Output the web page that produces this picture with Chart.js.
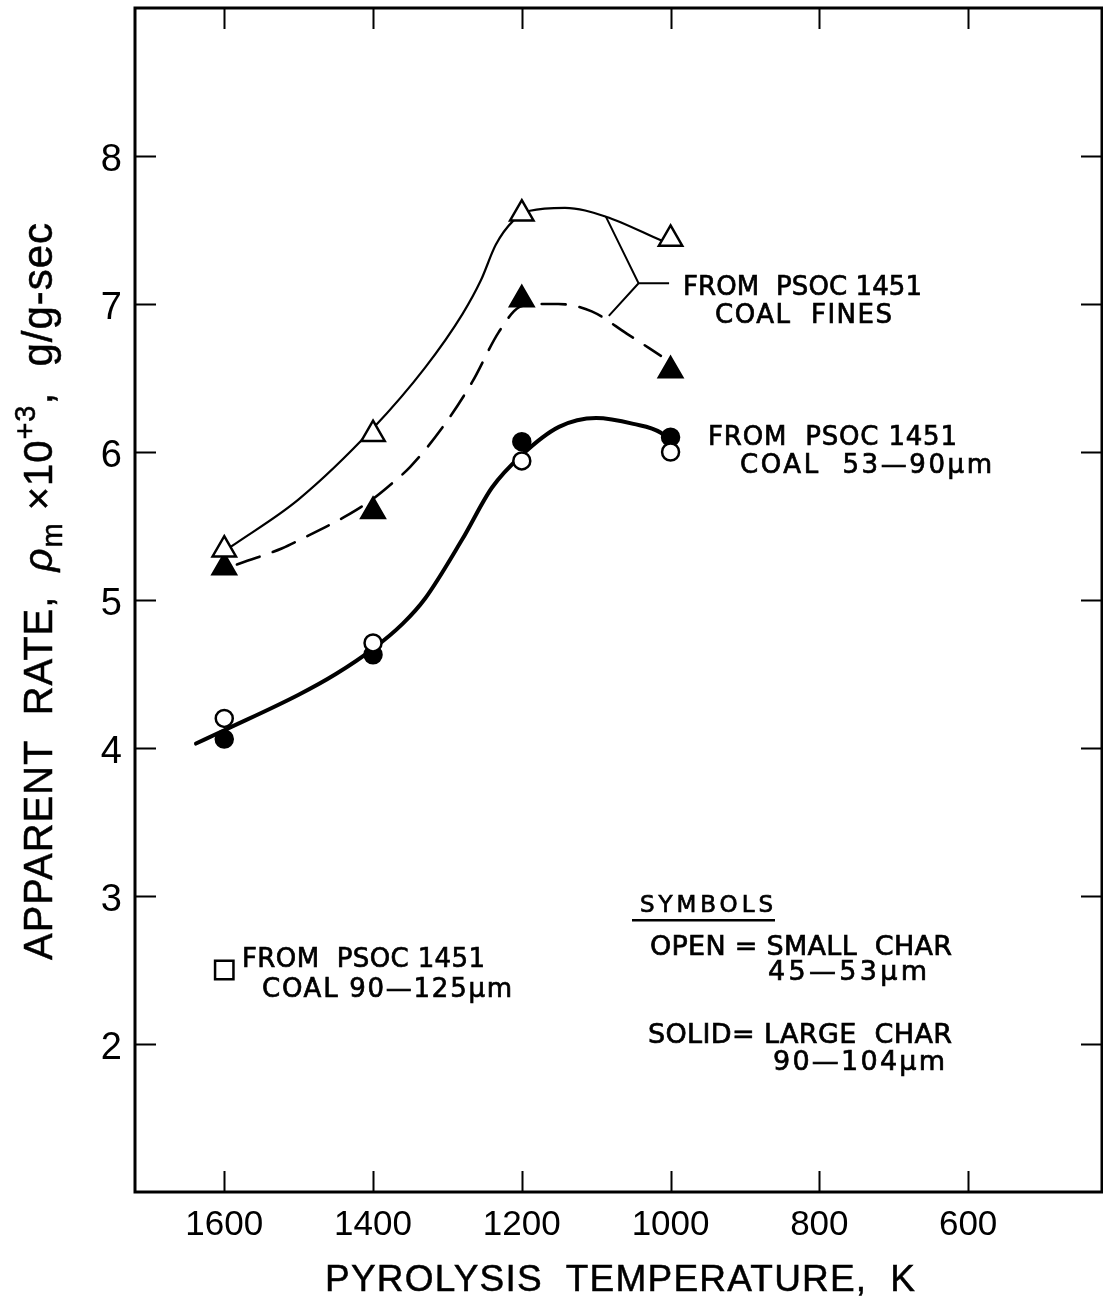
<!DOCTYPE html>
<html>
<head>
<meta charset="utf-8">
<script src="https://cdn.jsdelivr.net/npm/chart.js@4.4.1/dist/chart.umd.min.js"></script>
<style>
  html, body { margin: 0; padding: 0; background: #fff; }
  canvas { display: block; }
</style>
</head>
<body>
<canvas id="c" width="1103" height="1301"></canvas>
<script>
// Pyrolysis temperature of each char, K
const tempK = [1600, 1400, 1200, 1000];

// Apparent rate, rho_m x 10^3, g/g-sec
const finesSmall = [5.34, 6.12, 7.61, 7.44];  // open triangles
const finesLarge = [5.22, 5.60, 7.03, 6.55];  // solid triangles
const coalSmall  = [4.20, 4.71, 5.94, 6.00];  // open circles
const coalLarge  = [4.06, 4.63, 6.07, 6.10];  // solid circles
const coarseTemp = [1600];
const coarseRate = [2.50];                     // open square

// Faired curves through each group
const finesSmallCurveT = [1591, 1500, 1400, 1330, 1280, 1255, 1235, 1212, 1189, 1142, 1087, 1013];
const finesSmallCurveR = [5.36, 5.68, 6.16, 6.57, 6.93, 7.16, 7.40, 7.56, 7.63, 7.65, 7.59, 7.43];

const finesLargeCurveT = [1583, 1522, 1497, 1439, 1401, 1374, 1350, 1309, 1267, 1231, 1203, 1180, 1151, 1106, 1059, 1013];
const finesLargeCurveR = [5.24, 5.35, 5.41, 5.56, 5.68, 5.79, 5.90, 6.15, 6.47, 6.81, 6.98, 7.00, 7.00, 6.95, 6.80, 6.65];

const coalCurveT = [1638, 1600, 1500, 1450, 1400, 1360, 1330, 1280, 1240, 1200, 1150, 1100, 1050, 1013, 1001];
const coalCurveR = [4.03, 4.12, 4.36, 4.50, 4.67, 4.84, 5.01, 5.41, 5.76, 5.98, 6.17, 6.23, 6.19, 6.13, 6.07];

// Axis ticks
const xTicks = [1600, 1400, 1200, 1000, 800, 600];
const yTicks = [2, 3, 4, 5, 6, 7, 8];

const SANS = '"Liberation Sans", Arial, sans-serif';
const LETTER = '"DejaVu Sans", Verdana, sans-serif';

const pts = (xs, ys) => xs.map((x, i) => ({ x: x, y: ys[i] }));

function marker(label, xs, ys, style, fill, r) {
  return {
    label: label, data: pts(xs, ys), showLine: false,
    pointStyle: style, pointRadius: r, pointHoverRadius: r,
    pointBackgroundColor: fill, pointBorderColor: '#000', pointBorderWidth: 2.5,
    order: 0
  };
}
function curve(label, xs, ys, width, dash) {
  return {
    label: label, data: pts(xs, ys), showLine: true,
    pointRadius: 0, pointHoverRadius: 0,
    borderColor: '#000', borderWidth: width, borderDash: dash,
    borderCapStyle: 'round', cubicInterpolationMode: 'monotone', fill: false,
    order: 1
  };
}

// Draw a line of lettering so that it spans a given width
function fitText(ctx, str, x, y, width, font, weight) {
  ctx.font = font;
  ctx.letterSpacing = '0px';
  const w0 = ctx.measureText(str).width;
  const n = Array.from(str).length;
  const ls = n > 1 ? (width - w0) / (n - 1) : 0;
  ctx.letterSpacing = ls + 'px';
  ctx.fillText(str, x, y);
  if (weight) {
    ctx.lineWidth = weight;
    ctx.strokeText(str, x, y);
  }
  ctx.letterSpacing = '0px';
}

// Chart area is framed exactly by the axis boxes
function noScalePadding(s) {
  s.paddingTop = 0; s.paddingBottom = 0; s.paddingLeft = 0; s.paddingRight = 0;
}

const decorations = {
  id: 'decorations',
  beforeDatasetsDraw(chart) {
    const { ctx, chartArea: a, scales: { x, y } } = chart;
    ctx.save();
    ctx.strokeStyle = '#000';
    // frame
    ctx.lineWidth = 3;
    ctx.strokeRect(a.left, a.top, a.right - a.left, a.bottom - a.top);
    // inward tick marks on all four sides
    ctx.lineWidth = 2;
    const L = 21;
    ctx.beginPath();
    xTicks.forEach(v => {
      const px = Math.round(x.getPixelForValue(v)) + 0.5;
      ctx.moveTo(px, a.bottom); ctx.lineTo(px, a.bottom - L);
      ctx.moveTo(px, a.top); ctx.lineTo(px, a.top + L);
    });
    yTicks.forEach(v => {
      const py = Math.round(y.getPixelForValue(v)) + 0.5;
      ctx.moveTo(a.left, py); ctx.lineTo(a.left + L, py);
      ctx.moveTo(a.right, py); ctx.lineTo(a.right - L, py);
    });
    ctx.stroke();

    // leader lines to the coal-fines label
    const P = (t, r) => [x.getPixelForValue(t), y.getPixelForValue(r)];
    const top = P(1087, 7.59), joint = P(1043, 7.14), tail = P(1002, 7.14), low = P(1083, 6.92);
    ctx.lineWidth = 2;
    ctx.beginPath();
    ctx.moveTo(top[0], top[1]); ctx.lineTo(joint[0], joint[1]); ctx.lineTo(low[0], low[1]);
    ctx.moveTo(joint[0], joint[1]); ctx.lineTo(tail[0], tail[1]);
    ctx.stroke();
    ctx.restore();
  },
  afterDraw(chart) {
    const { ctx } = chart;
    ctx.save();
    ctx.fillStyle = '#000';
    ctx.strokeStyle = '#000';
    ctx.textAlign = 'left';
    ctx.textBaseline = 'alphabetic';
    const f = '26px ' + LETTER;
    const w = 0.7;
    fitText(ctx, 'FROM  PSOC 1451', 683, 295, 239, f, w);
    fitText(ctx, 'COAL  FINES', 715, 323, 177, f, w);
    fitText(ctx, 'FROM  PSOC 1451', 708, 445, 249, f, w);
    fitText(ctx, 'COAL  53\u201490\u03bcm', 740, 473, 252, f, w);
    fitText(ctx, 'FROM  PSOC 1451', 242, 967, 243, f, w);
    fitText(ctx, 'COAL 90\u2014125\u03bcm', 262, 997, 250, f, w);

    fitText(ctx, 'SYMBOLS', 640, 912, 133, '23px ' + LETTER, w);
    ctx.fillRect(632, 919, 143, 2.5);
    const g = '27px ' + LETTER;
    fitText(ctx, 'OPEN = SMALL  CHAR', 650, 955, 302, g, w);
    fitText(ctx, '45\u201453\u03bcm', 768, 980, 159, g, w);
    fitText(ctx, 'SOLID= LARGE  CHAR', 648, 1043, 304, g, w);
    fitText(ctx, '90\u2014104\u03bcm', 773, 1070, 172, g, w);

    // x-axis title
    fitText(ctx, 'PYROLYSIS  TEMPERATURE,  K', 325, 1291, 590, '37px ' + SANS, 0.5);

    // y-axis title with subscript and superscript, read bottom to top
    const segs = [
      { t: 'APPARENT  RATE,  ', font: '40px ' + SANS, dy: 0 },
      { t: '\u03c1', font: 'italic 40px ' + SANS, dy: 0 },
      { t: 'm', font: '29px ' + SANS, dy: 10 },
      { t: ' \u00d710', font: '40px ' + SANS, dy: 0 },
      { t: '+3', font: '29px ' + SANS, dy: -17 },
      { t: ',  g/g-sec', font: '42px ' + SANS, dy: 0 }
    ];
    ctx.letterSpacing = '0px';
    let natural = 0, chars = 0;
    segs.forEach(s => { ctx.font = s.font; s.w = ctx.measureText(s.t).width; natural += s.w; chars += Array.from(s.t).length; });
    const span = 737;
    const ls = (span - natural) / (chars - 1);
    ctx.translate(52, 960);
    ctx.rotate(-Math.PI / 2);
    ctx.lineWidth = 0.5;
    let cx = 0;
    segs.forEach(s => {
      ctx.font = s.font;
      ctx.letterSpacing = ls + 'px';
      ctx.fillText(s.t, cx, s.dy);
      ctx.strokeText(s.t, cx, s.dy);
      cx += s.w + ls * Array.from(s.t).length;
    });
    ctx.restore();
  }
};

new Chart(document.getElementById('c'), {
  type: 'scatter',
  data: {
    datasets: [
      marker('Coal fines, small char', tempK, finesSmall, 'triangle', '#fff', 13.5),
      marker('Coal fines, large char', tempK, finesLarge, 'triangle', '#000', 13.5),
      marker('Coal 53-90 \u03bcm, small char', tempK, coalSmall, 'circle', '#fff', 8.5),
      marker('Coal 53-90 \u03bcm, large char', tempK, coalLarge, 'circle', '#000', 8.5),
      marker('Coal 90-125 \u03bcm', coarseTemp, coarseRate, 'rect', '#fff', 13),
      curve('Fines, small char curve', finesSmallCurveT, finesSmallCurveR, 2.2, []),
      curve('Fines, large char curve', finesLargeCurveT, finesLargeCurveR, 2.6, [24, 14]),
      curve('Coal 53-90 \u03bcm curve', coalCurveT, coalCurveR, 4, [])
    ]
  },
  options: {
    responsive: false,
    animation: false,
    devicePixelRatio: 1,
    layout: { autoPadding: false, padding: { top: 8, right: 1, left: 0, bottom: 0 } },
    plugins: { legend: { display: false }, tooltip: { enabled: false } },
    scales: {
      x: {
        type: 'linear', reverse: true, min: 420, max: 1720,
        afterBuildTicks: s => { s.ticks = xTicks.map(v => ({ value: v })); },
        afterFit: s => { s.height = 109; noScalePadding(s); },
        grid: { display: false, drawTicks: false }, border: { display: false },
        ticks: {
          color: '#000', padding: 12, maxRotation: 0, autoSkip: false,
          font: { family: SANS, size: 35 },
          callback: v => String(v)
        }
      },
      y: {
        type: 'linear', min: 1, max: 9,
        afterBuildTicks: s => { s.ticks = yTicks.map(v => ({ value: v })); },
        afterFit: s => { s.width = 135; noScalePadding(s); },
        grid: { display: false, drawTicks: false }, border: { display: false },
        ticks: {
          color: '#000', padding: 13, labelOffset: 5,
          font: { family: SANS, size: 38 },
          callback: v => String(v)
        }
      }
    }
  },
  plugins: [decorations]
});
</script>
</body>
</html>
